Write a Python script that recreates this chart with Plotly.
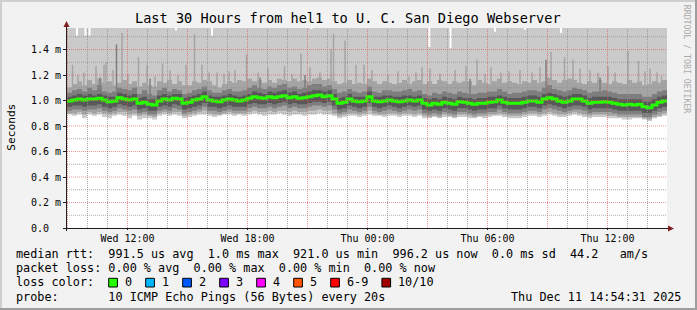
import pandas as pd
import plotly.graph_objects as go

# ---------------- data (ms), one value per 15-minute column ----------------
T0 = pd.Timestamp("2025-12-10 08:58:30")
STEP = pd.Timedelta(minutes=15)
SPAN = pd.Timedelta(hours=30)
YMAX = 1.5686
P10_OFFSCALE = 1.7   # max ping above visible range most of the time

median = [0.996,1.004,1.012,1.004,1.012,1.012,1.017,1.004,0.991,0.996,
          1.022,1.012,1.004,1.012,0.978,0.986,0.970,0.965,0.996,1.012,
          1.004,1.017,1.012,0.978,0.986,1.004,1.012,1.030,1.004,0.996,
          0.990,1.004,1.012,1.004,0.996,1.004,1.017,1.030,1.022,1.017,
          1.030,1.022,1.030,1.038,1.022,1.030,1.017,1.022,1.030,1.038,
          1.043,1.030,1.038,1.012,0.978,0.986,1.012,0.996,0.991,0.996,
          1.030,0.996,0.991,0.996,1.004,0.996,0.991,0.996,1.004,0.996,
          1.004,0.978,0.965,0.978,0.970,0.986,0.978,0.970,0.991,0.986,
          0.978,0.970,0.978,0.978,0.986,0.991,1.004,0.986,0.978,0.978,
          0.978,0.986,0.996,0.996,0.986,1.012,1.022,1.012,0.996,0.986,
          0.996,1.012,1.012,0.996,0.978,0.986,0.986,0.991,0.986,0.978,
          0.970,0.965,0.970,0.965,0.970,0.951,0.943,0.965,0.986,0.996]

p1 = [0.89,0.88,0.89,0.86,0.89,0.88,0.89,0.87,0.86,0.88,
      0.89,0.88,0.86,0.88,0.85,0.86,0.86,0.85,0.88,0.89,
      0.88,0.89,0.88,0.86,0.87,0.88,0.89,0.89,0.88,0.87,
      0.88,0.89,0.89,0.88,0.89,0.88,0.89,0.90,0.89,0.88,
      0.89,0.89,0.90,0.89,0.88,0.89,0.89,0.88,0.89,0.89,
      0.90,0.89,0.89,0.88,0.86,0.87,0.88,0.88,0.87,0.88,
      0.89,0.88,0.88,0.87,0.88,0.88,0.87,0.88,0.88,0.87,
      0.88,0.86,0.86,0.87,0.86,0.87,0.87,0.86,0.87,0.87,
      0.86,0.86,0.87,0.86,0.87,0.88,0.88,0.87,0.86,0.86,
      0.86,0.87,0.88,0.88,0.87,0.88,0.89,0.88,0.87,0.87,
      0.88,0.89,0.88,0.87,0.86,0.87,0.87,0.87,0.86,0.86,
      0.86,0.85,0.85,0.86,0.86,0.85,0.84,0.86,0.87,0.88]

p2 = [0.90,0.90,0.91,0.89,0.91,0.90,0.91,0.90,0.89,0.90,
      0.91,0.91,0.89,0.90,0.88,0.89,0.88,0.87,0.90,0.91,
      0.90,0.91,0.91,0.88,0.89,0.90,0.91,0.92,0.90,0.89,
      0.89,0.90,0.91,0.90,0.90,0.90,0.91,0.92,0.91,0.91,
      0.92,0.91,0.92,0.92,0.91,0.92,0.91,0.91,0.92,0.92,
      0.93,0.92,0.92,0.90,0.88,0.89,0.90,0.90,0.89,0.90,
      0.92,0.90,0.89,0.89,0.90,0.90,0.89,0.90,0.90,0.89,
      0.90,0.88,0.87,0.88,0.87,0.89,0.88,0.87,0.89,0.89,
      0.88,0.87,0.88,0.88,0.89,0.89,0.90,0.89,0.88,0.88,
      0.88,0.89,0.90,0.90,0.89,0.90,0.91,0.90,0.89,0.89,
      0.90,0.91,0.90,0.89,0.88,0.89,0.89,0.89,0.88,0.88,
      0.87,0.87,0.87,0.87,0.87,0.86,0.85,0.87,0.88,0.90]

p3 = [0.92,0.93,0.93,0.92,0.93,0.93,0.94,0.92,0.91,0.92,
      0.94,0.93,0.92,0.93,0.90,0.91,0.89,0.89,0.92,0.93,
      0.92,0.94,0.93,0.90,0.91,0.92,0.93,0.95,0.92,0.92,
      0.91,0.92,0.93,0.92,0.92,0.92,0.94,0.95,0.94,0.94,
      0.95,0.94,0.95,0.96,0.94,0.95,0.94,0.94,0.95,0.96,
      0.96,0.95,0.96,0.93,0.90,0.91,0.93,0.92,0.91,0.92,
      0.95,0.92,0.91,0.92,0.93,0.92,0.91,0.92,0.93,0.92,
      0.93,0.90,0.89,0.90,0.89,0.91,0.90,0.89,0.91,0.91,
      0.90,0.89,0.90,0.90,0.91,0.91,0.93,0.91,0.90,0.90,
      0.90,0.91,0.92,0.92,0.91,0.93,0.94,0.93,0.92,0.91,
      0.92,0.93,0.93,0.92,0.90,0.91,0.91,0.91,0.91,0.90,
      0.89,0.89,0.89,0.89,0.89,0.87,0.87,0.89,0.91,0.92]

p4 = [0.95,0.96,0.96,0.95,0.96,0.96,0.97,0.95,0.94,0.95,
      0.97,0.96,0.95,0.96,0.93,0.94,0.92,0.92,0.95,0.96,
      0.95,0.97,0.96,0.93,0.94,0.95,0.96,0.98,0.95,0.95,
      0.94,0.95,0.96,0.95,0.95,0.95,0.97,0.98,0.97,0.97,
      0.98,0.97,0.98,0.99,0.97,0.98,0.97,0.97,0.98,0.99,
      0.99,0.98,0.99,0.96,0.93,0.94,0.96,0.95,0.94,0.95,
      0.98,0.95,0.94,0.95,0.96,0.95,0.94,0.95,0.96,0.95,
      0.96,0.93,0.92,0.93,0.92,0.94,0.93,0.92,0.94,0.94,
      0.93,0.92,0.93,0.93,0.94,0.94,0.96,0.94,0.93,0.93,
      0.93,0.94,0.95,0.95,0.94,0.96,0.97,0.96,0.95,0.94,
      0.95,0.96,0.96,0.95,0.93,0.94,0.94,0.94,0.94,0.93,
      0.92,0.92,0.92,0.92,0.92,0.90,0.90,0.92,0.94,0.95]

p7 = [1.03,1.04,1.05,1.04,1.05,1.04,1.05,1.04,1.03,1.03,
      1.06,1.05,1.04,1.05,1.02,1.03,1.01,1.01,1.04,1.05,
      1.04,1.05,1.05,1.02,1.03,1.04,1.05,1.07,1.04,1.03,
      1.03,1.04,1.05,1.04,1.03,1.04,1.05,1.07,1.06,1.05,
      1.07,1.06,1.07,1.08,1.06,1.07,1.05,1.06,1.07,1.08,
      1.08,1.07,1.08,1.05,1.02,1.03,1.05,1.03,1.03,1.03,
      1.07,1.03,1.03,1.04,1.04,1.03,1.03,1.04,1.04,1.03,
      1.04,1.02,1.01,1.02,1.01,1.03,1.02,1.01,1.03,1.02,
      1.02,1.01,1.02,1.02,1.03,1.03,1.04,1.03,1.02,1.02,
      1.02,1.03,1.04,1.04,1.03,1.05,1.06,1.05,1.04,1.03,
      1.04,1.05,1.05,1.04,1.02,1.03,1.03,1.03,1.03,1.02,
      1.01,1.01,1.01,1.01,1.01,0.99,0.99,1.01,1.03,1.04]

p8 = [1.06,1.08,1.09,1.07,1.10,1.08,1.12,1.07,1.06,1.07,
      1.10,1.09,1.08,1.10,1.05,1.08,1.05,1.04,1.08,1.10,
      1.07,1.09,1.08,1.05,1.06,1.08,1.09,1.11,1.08,1.06,
      1.06,1.08,1.09,1.07,1.07,1.08,1.10,1.12,1.10,1.09,
      1.11,1.10,1.12,1.13,1.10,1.11,1.09,1.10,1.12,1.13,
      1.13,1.11,1.12,1.09,1.06,1.07,1.09,1.07,1.06,1.07,
      1.11,1.07,1.06,1.08,1.08,1.07,1.07,1.08,1.09,1.07,
      1.08,1.05,1.04,1.06,1.05,1.07,1.06,1.05,1.07,1.06,
      1.05,1.05,1.06,1.06,1.07,1.07,1.09,1.07,1.05,1.06,
      1.06,1.07,1.08,1.08,1.07,1.10,1.12,1.09,1.08,1.07,
      1.08,1.10,1.09,1.08,1.06,1.07,1.07,1.08,1.07,1.06,
      1.05,1.05,1.05,1.05,1.05,1.03,1.03,1.05,1.07,1.08]

p9 = [1.10,1.13,1.15,1.12,1.16,1.13,1.17,1.14,1.15,1.12,
      1.14,1.16,1.13,1.15,1.11,1.14,1.12,1.11,1.15,1.14,
      1.16,1.13,1.15,1.12,1.12,1.15,1.14,1.16,1.15,1.12,
      1.10,1.13,1.15,1.14,1.16,1.15,1.17,1.15,1.16,1.14,
      1.16,1.14,1.17,1.16,1.15,1.17,1.15,1.16,1.15,1.17,
      1.18,1.16,1.17,1.15,1.13,1.14,1.16,1.13,1.14,1.13,
      1.17,1.15,1.13,1.15,1.14,1.13,1.14,1.16,1.13,1.15,
      1.16,1.13,1.15,1.13,1.16,1.15,1.13,1.15,1.14,1.15,
      1.15,1.12,1.16,1.14,1.13,1.15,1.17,1.14,1.15,1.14,
      1.13,1.15,1.14,1.16,1.14,1.15,1.18,1.16,1.14,1.16,
      1.17,1.16,1.14,1.13,1.15,1.14,1.16,1.14,1.13,1.15,
      1.14,1.13,1.16,1.14,1.15,1.12,1.13,1.15,1.14,1.16]

# short high excursions of the 9th ping (hours after start, ms)
spike_h = [0.275,0.55,0.85,1.45,1.85,1.95,2.3,2.75,3.05,3.575,4.0,4.4,4.775,5.15,
           5.55,5.95,6.375,6.75,7.1,7.5,7.85,8.1,8.4,8.975,9.55,10.05,10.875,11.25,
           11.7,12.15,12.65,13.2,13.325,13.9,14.45,14.85,15.25,16.05,16.55,17.1,17.45,
           17.75,18.15,18.65,19.4,19.95,20.5,20.9,21.2,21.7,22.1,22.65,23.25,23.65,
           24.2,24.875,25.3,25.65,26.15,26.55,27.05,27.4,28.05,28.575,28.9,29.15,29.5,29.725]
spike_v = [1.28,1.20,1.22,1.27,1.28,1.30,1.24,1.53,1.21,1.34,1.28,1.19,1.29,1.24,
           1.20,1.28,1.52,1.28,1.22,1.22,1.21,1.23,1.24,1.36,1.22,1.25,1.27,1.21,
           1.37,1.26,1.22,1.40,1.52,1.47,1.28,1.28,1.24,1.20,1.23,1.19,1.22,
           1.26,1.25,1.21,1.24,1.27,1.32,1.21,1.26,1.22,1.23,1.24,1.22,1.26,
           1.38,1.34,1.32,1.25,1.24,1.22,1.27,1.22,1.39,1.31,1.23,1.25,1.22,1.19]

# short high excursions of the 8th ping
dspike_h = [1.65,2.475,4.15,9.65,11.9,20.15,23.95,26.65]
dspike_v = [1.18,1.44,1.17,1.18,1.20,1.17,1.32,1.18]

# moments where the max ping stayed below the top of the scale
notch_h = [0.5,0.925,1.125,5.45,7.25,12.225,18.115,19.175,21.4,22.9,24.7]
notch_v = [1.51,1.51,1.51,1.55,1.51,1.56,1.42,1.41,1.54,1.555,1.53]

x_tick_vals = ["2025-12-10 12:00", "2025-12-10 18:00", "2025-12-11 00:00",
               "2025-12-11 06:00", "2025-12-11 12:00"]
x_tick_text = ["Wed 12:00", "Wed 18:00", "Thu 00:00", "Thu 06:00", "Thu 12:00"]
y_tick_vals = [0.0, 0.2, 0.4, 0.6, 0.8, 1.0, 1.2, 1.4]
y_tick_text = ["0.0\u00a0\u00a0", "0.2 m", "0.4 m", "0.6 m", "0.8 m", "1.0 m", "1.2 m", "1.4 m"]

loss_labels = ["0", "1", "2", "3", "4", "5", "6-9", "10/10"]
loss_colors = ["#26ff00", "#00b8ff", "#0059ff", "#7e00ff", "#ff00ff", "#ff5500", "#ff0000", "#a10000"]

title = "Last 30 Hours from hel1 to U. C. San Diego Webserver"
line_rtt = "median rtt:  991.5 us avg  1.0 ms max  921.0 us min  996.2 us now  0.0 ms sd  44.2   am/s"
line_loss = "packet loss: 0.00 % avg  0.00 % max  0.00 % min  0.00 % now"
line_probe = "probe:       10 ICMP Echo Pings (56 Bytes) every 20s"
stamp = "Thu Dec 11 14:54:31 2025"

# ---------------- drawing ----------------
MONO = "DejaVu Sans Mono"
PL, PR, PT, PB = 67, 667, 28, 228


def fx(px):
    return (px - PL) / (PR - PL)


def fy(py):
    return (PB - py) / (PB - PT)


n = len(median)
edges = [T0 + STEP * i for i in range(n + 1)]


def stepy(v):
    return list(v) + [v[-1]]


fig = go.Figure()


def band(lo, hi, color):
    fig.add_trace(go.Scatter(x=edges, y=stepy(lo), mode="lines",
                             line=dict(width=0, shape="hv"), hoverinfo="skip"))
    fig.add_trace(go.Scatter(x=edges, y=stepy(hi), mode="lines",
                             line=dict(width=0, shape="hv"), fill="tonexty",
                             fillcolor=color, hoverinfo="skip"))


def col_index(h):
    return min(n - 1, int(h * 4))


def sticks(hours, tops, bases, color, width_px):
    xs, ys = [], []
    for h, t, b in zip(hours, tops, bases):
        tt = T0 + pd.Timedelta(hours=h)
        xs += [tt, tt, None]
        ys += [b, t, None]
    fig.add_trace(go.Scatter(x=xs, y=ys, mode="lines", connectgaps=False,
                             line=dict(color=color, width=width_px), hoverinfo="skip"))


band(p1, [P10_OFFSCALE] * n, "#CACACA")
sticks(notch_h, [P10_OFFSCALE] * len(notch_h), notch_v, "#FFFFFF", 2)
band(p2, p9, "#A4A4A4")
sticks(spike_h, spike_v, [median[col_index(h)] for h in spike_h], "#A4A4A4", 1.5)
band(p3, p8, "#7E7E7E")
sticks(dspike_h, dspike_v, [median[col_index(h)] for h in dspike_h], "#7E7E7E", 1.5)
band(p4, p7, "#585858")
fig.add_trace(go.Scatter(x=edges, y=stepy(median), mode="lines",
                         line=dict(color="#26ff00", width=3, shape="hv"),
                         hoverinfo="skip"))

shapes = []
GRID = "rgba(143,143,143,0.75)"
MGRID = "rgba(222,79,79,0.6)"
for t in pd.date_range("2025-12-10 09:00", "2025-12-11 14:00", freq="1h"):
    shapes.append(dict(type="line", xref="x", yref="paper", x0=t, x1=t, y0=0, y1=1,
                       layer="above",
                       line=dict(color=MGRID if t.hour % 3 == 0 else GRID, width=1, dash="1px,1px")))
for k in range(1, 16):
    v = k / 10
    shapes.append(dict(type="line", xref="paper", yref="y", x0=0, x1=1, y0=v, y1=v,
                       layer="above",
                       line=dict(color=MGRID if k % 2 == 0 else GRID, width=1, dash="1px,1px")))

AXIS = "#1F1F1F"
ARROW = "#801F1F"
shapes.append(dict(type="line", xref="paper", yref="paper", x0=fx(63), x1=fx(669),
                   y0=fy(228.5), y1=fy(228.5), layer="above", line=dict(color=AXIS, width=1)))
shapes.append(dict(type="line", xref="paper", yref="paper", x0=fx(66.5), x1=fx(66.5),
                   y0=fy(231), y1=fy(25), layer="above", line=dict(color=AXIS, width=1)))
shapes.append(dict(type="path", xref="paper", yref="paper", layer="above",
                   path=f"M {fx(668)},{fy(225.5)} L {fx(668)},{fy(231.5)} L {fx(674)},{fy(228.5)} Z",
                   fillcolor=ARROW, line=dict(width=0)))
shapes.append(dict(type="path", xref="paper", yref="paper", layer="above",
                   path=f"M {fx(63.5)},{fy(27)} L {fx(69.5)},{fy(27)} L {fx(66.5)},{fy(21)} Z",
                   fillcolor=ARROW, line=dict(width=0)))
shapes.append(dict(type="rect", xref="paper", yref="paper", x0=fx(0), x1=fx(697), y0=fy(0), y1=fy(2),
                   fillcolor="#CFCFCF", line=dict(width=0), layer="above"))
shapes.append(dict(type="rect", xref="paper", yref="paper", x0=fx(0), x1=fx(2), y0=fy(0), y1=fy(310),
                   fillcolor="#CFCFCF", line=dict(width=0), layer="above"))
shapes.append(dict(type="rect", xref="paper", yref="paper", x0=fx(0), x1=fx(697), y0=fy(308), y1=fy(310),
                   fillcolor="#9E9E9E", line=dict(width=0), layer="above"))
shapes.append(dict(type="rect", xref="paper", yref="paper", x0=fx(695), x1=fx(697), y0=fy(0), y1=fy(310),
                   fillcolor="#9E9E9E", line=dict(width=0), layer="above"))

annotations = []


def text(s, px, py, size, xanchor="left", color="black", angle=0):
    annotations.append(dict(text=s.replace(" ", "\u00a0"), xref="paper", yref="paper",
                            x=fx(px), y=fy(py), xanchor=xanchor, yanchor="middle",
                            showarrow=False, borderpad=0, textangle=angle,
                            font=dict(family=MONO, size=size, color=color)))


CH = 7.1
TXT = 11.8
text(title, 347.5, 18.5, 13.6, xanchor="center")
text("Seconds", 10.8, 127, 11.2, xanchor="center", angle=-90)
text("RRDTOOL / TOBI OETIKER", 687.2, 59, 8.2, xanchor="center", color="#AAAAAA", angle=90)
text(line_rtt, 15, 254, TXT)
text(line_loss, 15, 268.3, TXT)
text("loss color:", 15, 282.3, TXT)
text(line_probe, 15, 296.7, TXT)
text(stamp, 681.5, 296.7, TXT, xanchor="right")

sx = 108.7
for lab, col in zip(loss_labels, loss_colors):
    shapes.append(dict(type="rect", xref="paper", yref="paper", layer="above",
                       x0=fx(sx), x1=fx(sx + 8.7), y0=fy(278.3), y1=fy(287),
                       fillcolor=col, line=dict(color="black", width=1)))
    text(lab, sx + 15.3, 282.3, TXT)
    sx += 15.3 + CH * len(lab) + 14.6

fig.update_layout(
    width=697, height=310,
    margin=dict(l=PL, r=697 - PR, t=PT, b=310 - PB, pad=0),
    paper_bgcolor="#F2F2F2", plot_bgcolor="#FFFFFF",
    showlegend=False, hovermode=False,
    shapes=shapes, annotations=annotations,
    xaxis=dict(type="date", range=[T0, T0 + SPAN], showgrid=False, zeroline=False,
               showline=False, tickmode="array", tickvals=x_tick_vals, ticktext=x_tick_text,
               ticks="outside", ticklen=1, tickcolor=AXIS,
               tickfont=dict(family=MONO, size=10, color="black"), fixedrange=True),
    yaxis=dict(range=[0, YMAX], showgrid=False, zeroline=False, showline=False,
               tickmode="array", tickvals=y_tick_vals, ticktext=y_tick_text,
               ticks="outside", ticklen=3, tickcolor=AXIS,
               tickfont=dict(family=MONO, size=10, color="black"), fixedrange=True),
)

fig.write_html("out.html", config={"displayModeBar": False})
